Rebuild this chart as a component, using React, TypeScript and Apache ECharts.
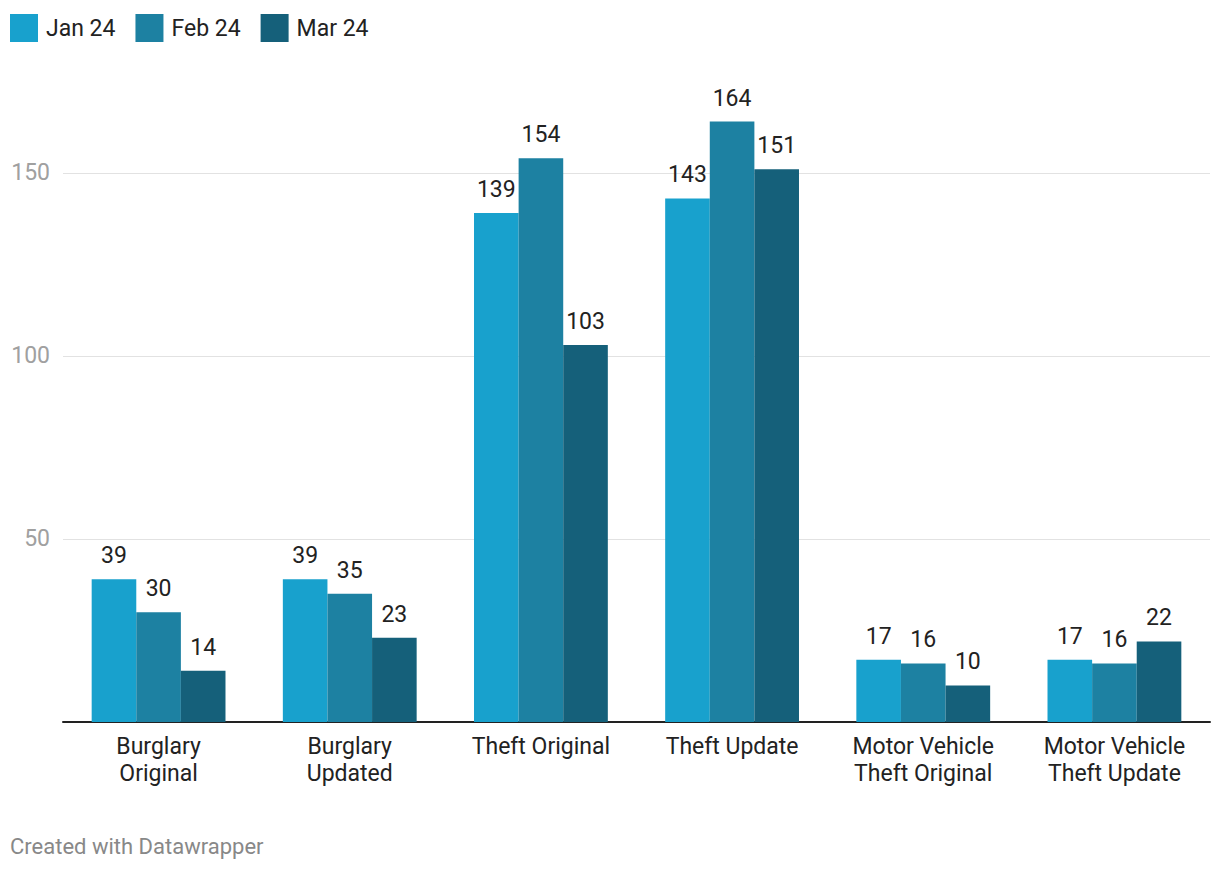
import React, { useEffect, useRef } from "react";
import * as echarts from "echarts";

const categories = [
  "Burglary\nOriginal",
  "Burglary\nUpdated",
  "Theft Original",
  "Theft Update",
  "Motor Vehicle\nTheft Original",
  "Motor Vehicle\nTheft Update",
];
const seriesNames = ["Jan 24", "Feb 24", "Mar 24"];
const jan24 = [39, 39, 139, 143, 17, 17];
const feb24 = [30, 35, 154, 164, 16, 16];
const mar24 = [14, 23, 103, 151, 10, 22];
const colors = ["#18a1cd", "#1d81a2", "#15607a"];
const footerText = "Created with Datawrapper";

export default function App() {
  const ref = useRef<HTMLDivElement>(null);
  useEffect(() => {
    if (!ref.current) return;
    const chart = echarts.init(ref.current, null, { renderer: "svg" });
    const font = "Roboto, sans-serif";
    const data = [jan24, feb24, mar24];
    chart.setOption({
      animation: false,
      textStyle: { fontFamily: font },
      legend: {
        left: 10,
        top: 14,
        padding: 0,
        itemWidth: 28,
        itemHeight: 28,
        itemGap: 20,
        icon: "rect",
        textStyle: {
          fontSize: 23,
          color: "#222",
          fontFamily: font,
          width: 73,
          padding: [0, 0, 0, 3],
        },
        data: seriesNames,
      },
      grid: { left: 63, right: 10, top: 63, bottom: 150, containLabel: false },
      xAxis: {
        type: "category",
        data: categories,
        axisLine: { lineStyle: { color: "#222", width: 2 } },
        axisTick: { show: false },
        axisLabel: {
          fontSize: 23,
          color: "#222",
          lineHeight: 27,
          margin: 11,
          interval: 0,
          fontFamily: font,
        },
      },
      yAxis: {
        type: "value",
        min: 0,
        max: 180,
        interval: 50,
        axisLine: { show: false },
        axisTick: { show: false },
        splitLine: {
          show: true,
          showMinLine: false,
          showMaxLine: false,
          lineStyle: { color: "#e2e2e2", width: 1 },
        },
        axisLabel: {
          showMinLabel: false,
          showMaxLabel: false,
          fontSize: 23,
          color: "#a0a0a0",
          margin: 13,
          padding: [0, 0, 11, 0],
          fontFamily: font,
        },
      },
      series: seriesNames.map((name, i) => ({
        name,
        type: "bar",
        data: data[i],
        barGap: "0%",
        barCategoryGap: "30%",
        itemStyle: { color: colors[i] },
        label: {
          show: true,
          position: "top",
          distance: 12,
          fontSize: 23,
          color: "#222",
          fontFamily: font,
        },
      })),
      graphic: [
        {
          type: "text",
          left: 10,
          top: 835,
          style: { text: footerText, fontSize: 22, fill: "#888", fontFamily: font },
        },
      ],
    });
    return () => chart.dispose();
  }, []);
  return (
    <div
      ref={ref}
      style={{ position: "fixed", left: 0, top: 0, width: 1220, height: 872, background: "#fff" }}
    />
  );
}
